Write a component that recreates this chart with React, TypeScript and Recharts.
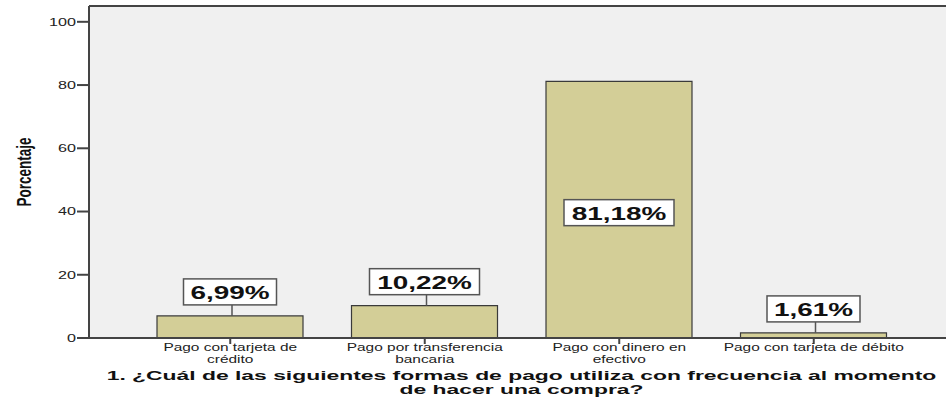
import React from 'react';
import {
  BarChart,
  Bar,
  XAxis,
  YAxis,
  CartesianGrid,
  LabelList,
  ReferenceLine
} from 'recharts';

const categories = [
  'Pago con tarjeta de\ncrédito',
  'Pago por transferencia\nbancaria',
  'Pago con dinero en\nefectivo',
  'Pago con tarjeta de débito'
];
const percentages = [6.99, 10.22, 81.18, 1.61];
const yTicks = [0, 20, 40, 60, 80, 100];

const xTitle = [
  '1. ¿Cuál de las siguientes formas de pago utiliza con frecuencia al momento',
  'de hacer una compra?'
];
const yTitle = 'Porcentaje';

const data = categories.map((name, i) => ({ name, value: percentages[i] }));

const FONT = '"Liberation Sans", Arial, sans-serif';
const SX = 1.47; // the original picture is stretched sideways
const AXIS = '#444';

const fmt = (v: number) => v.toFixed(2).replace('.', ',') + '%';

const YTick = (props: any) => {
  const { x, y, payload } = props;
  return (
    <g transform={`translate(${x},${y}) scale(${SX},1)`}>
      <text textAnchor="end" dy="0.35em" fontSize={11} fontFamily={FONT} fill="#222">
        {payload.value}
      </text>
    </g>
  );
};

const XTick = (props: any) => {
  const { x, y, payload } = props;
  const lines = String(payload.value).split('\n');
  return (
    <g transform={`translate(${x},${y - 2}) scale(${SX},1)`}>
      {lines.map((l, i) => (
        <text
          key={i}
          y={i * 11.5}
          dy="0.71em"
          textAnchor="middle"
          fontSize={10.5}
          fontFamily={FONT}
          fill="#222"
        >
          {l}
        </text>
      ))}
    </g>
  );
};

const XTitle = (props: any) => {
  const { viewBox } = props;
  const cx = viewBox.x + viewBox.width / 2 - 3;
  return (
    <g transform={`translate(${cx},${viewBox.y + 33}) scale(1.76,1)`}>
      {xTitle.map((l, i) => (
        <text
          key={i}
          y={i * 14}
          dy="0.71em"
          textAnchor="middle"
          fontSize={13}
          fontWeight="bold"
          fontFamily={FONT}
          fill="#111"
        >
          {l}
        </text>
      ))}
    </g>
  );
};

const ValueBox = (props: any) => {
  const { x, y, width, height, value } = props;
  const text = fmt(value);
  const w = text.length * 17 + 8;
  const h = 26;
  const cx = x + width / 2;
  const inside = height > 60;
  const top = inside ? y + height / 2 - h / 2 + 3 : y - 11 - h;
  return (
    <g>
      {!inside && (
        <line x1={cx + 2} y1={top + h} x2={cx + 2} y2={y} stroke="#555" strokeWidth={1.5} />
      )}
      <rect
        x={cx - w / 2}
        y={top}
        width={w}
        height={h}
        fill="#fff"
        stroke="#555"
        strokeWidth={1.5}
      />
      <g transform={`translate(${cx},${top + h / 2}) scale(${SX},1)`}>
        <text
          textAnchor="middle"
          dy="0.36em"
          fontSize={19}
          fontWeight="bold"
          fontFamily={FONT}
          fill="#111"
        >
          {text}
        </text>
      </g>
    </g>
  );
};

export default function App() {
  return (
    <div
      style={{
        position: 'absolute',
        left: 0,
        top: 0,
        width: 946,
        height: 404,
        overflow: 'hidden',
        background: '#fff'
      }}
    >
      <BarChart
        width={990}
        height={404}
        data={data}
        margin={{ top: 6, right: 30, left: 0, bottom: 0 }}
        barSize={146}
      >
        <CartesianGrid fill="#f0f0f0" horizontal={false} vertical={false} />
        <ReferenceLine y={105} stroke={AXIS} strokeWidth={2} />
        <XAxis
          dataKey="name"
          height={66}
          padding={{ left: 44, right: 49 }}
          tickSize={6}
          tickMargin={2}
          axisLine={{ stroke: AXIS, strokeWidth: 2 }}
          tickLine={{ stroke: AXIS, strokeWidth: 2 }}
          tick={<XTick />}
          interval={0}
          label={<XTitle />}
        />
        <YAxis
          width={89}
          domain={[0, 105]}
          ticks={yTicks}
          allowDataOverflow
          tickSize={12}
          tickMargin={1}
          axisLine={{ stroke: AXIS, strokeWidth: 2 }}
          tickLine={{ stroke: AXIS, strokeWidth: 2 }}
          tick={<YTick />}
        />
        <Bar
          dataKey="value"
          fill="#d3ce97"
          stroke="#3a3a3a"
          strokeWidth={1.2}
          isAnimationActive={false}
        >
          <LabelList dataKey="value" content={<ValueBox />} />
        </Bar>
        <g transform={`translate(24,172) scale(${SX},1) rotate(-90)`}>
          <text
            textAnchor="middle"
            dy="0.35em"
            fontSize={13.5}
            fontWeight="bold"
            fontFamily={FONT}
            fill="#111"
          >
            {yTitle}
          </text>
        </g>
      </BarChart>
    </div>
  );
}
